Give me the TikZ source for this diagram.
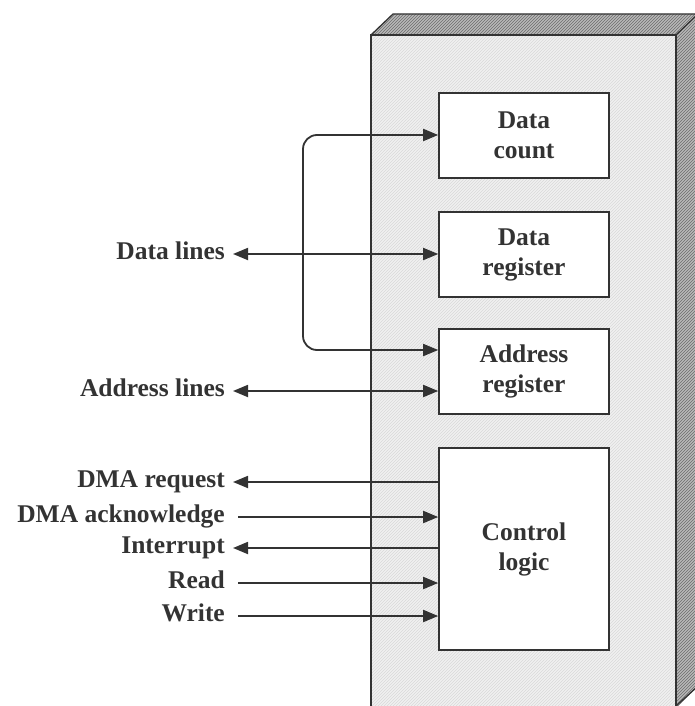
\documentclass[tikz,border=0pt]{standalone}
\usepackage{fontspec}
\setmainfont{Liberation Serif}
\usetikzlibrary{arrows.meta,patterns}
\definecolor{ink}{HTML}{333333}
\begin{document}
\begin{tikzpicture}[x=1pt,y=-1pt,
  wire/.style={draw=ink,line width=1.8pt},
  tip/.style={-{Triangle[length=15pt,width=12pt]}},
  dtip/.style={{Triangle[length=15pt,width=12pt]}-{Triangle[length=15pt,width=12pt]}},
  reg/.style={draw=ink,line width=1.6pt,fill=white,minimum width=170pt,align=center,
    font=\fontsize{25.5}{30}\selectfont\bfseries,text=ink,inner sep=0pt},
  lbl/.style={anchor=base east,font=\fontsize{25.5}{30}\selectfont\bfseries,text=ink,inner sep=0pt}]
\useasboundingbox (0,0) rectangle (695,706);
\begin{scope}
\clip (0,0) rectangle (695,706);
% top face
\fill[gray!55] (371,35) -- (393,14) -- (700,14) -- (676,35) -- cycle;
\fill[pattern=north east lines,pattern color=gray!85!black] (371,35) -- (393,14) -- (700,14) -- (676,35) -- cycle;
% right face
\fill[gray!55] (676,35) -- (700,12) -- (700,684) -- (676,708) -- cycle;
\fill[pattern=north east lines,pattern color=gray!85!black] (676,35) -- (700,12) -- (700,684) -- (676,708) -- cycle;
% front face
\fill[gray!12] (371,35) rectangle (676,710);
\fill[pattern=north east lines,pattern color=gray!30] (371,35) rectangle (676,710);
\draw[ink,line width=1.6pt] (371,710) -- (371,35) -- (676,35) -- (676,710);
\draw[ink,line width=1.3pt] (371,35) -- (393,14) -- (700,14);
\draw[ink,line width=1.3pt] (676,35) -- (698,14);
\draw[ink,line width=1.3pt] (676,706) -- (698,686);
\end{scope}
% registers
\node[reg,minimum height=85pt] (dc) at (524,135.5) {Data\\count};
\node[reg,minimum height=85pt] (dr) at (524,254.5) {Data\\register};
\node[reg,minimum height=85pt] (ar) at (524,371.5) {Address\\register};
\node[reg,minimum height=202pt] (cl) at (524,549) {Control\\logic};
% labels
\node[lbl] (dl) at (225,259) {Data lines};
\node[lbl] (al) at (225,396) {Address lines};
\node[lbl] (dreq) at (225,487) {DMA request};
\node[lbl] (dack) at (225,522) {DMA acknowledge};
\node[lbl] (intr) at (225,553) {Interrupt};
\node[lbl] (rd) at (225,588) {Read};
\node[lbl] (wr) at (225,621) {Write};
% coordinates
\coordinate (dlL) at (233,254);
\coordinate (alL) at (233,391);
\coordinate (dreqL) at (233,482);
\coordinate (dackL) at (238,517);
\coordinate (intrL) at (233,548);
\coordinate (rdL) at (238,583);
\coordinate (wrL) at (238,616);
\coordinate (busT) at (303,135);
\coordinate (busB) at (303,350);
% connectors
\draw[wire,dtip] (dlL) -- (dlL -| dr.west);
\draw[wire,dtip] (alL) -- (alL -| ar.west);
\draw[wire,dtip,rounded corners=14pt] (dc.west |- busT) -- (busT) -- (busB) -- (busB -| ar.west);
\draw[wire,tip] (dreqL -| cl.west) -- (dreqL);
\draw[wire,tip] (dackL) -- (dackL -| cl.west);
\draw[wire,tip] (intrL -| cl.west) -- (intrL);
\draw[wire,tip] (rdL) -- (rdL -| cl.west);
\draw[wire,tip] (wrL) -- (wrL -| cl.west);
\end{tikzpicture}
\end{document}
